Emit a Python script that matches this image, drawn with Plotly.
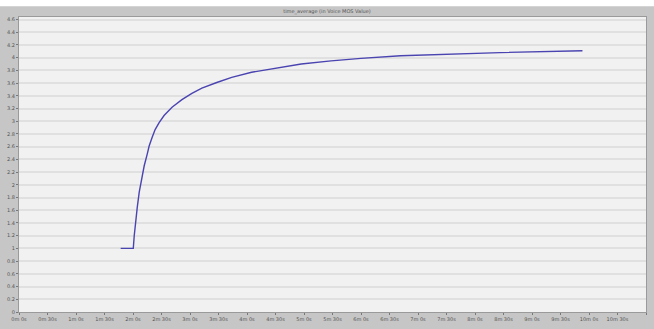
import plotly.graph_objects as go

# time_average of the voice MOS statistic (seconds vs. MOS)
time_s = [107, 120.3, 121.3, 122.4, 124.5, 126.6, 129.7, 131.8, 134.9, 137.0, 140.2,
          143.3, 147.5, 152.7, 161.1, 171.5, 182.0, 192.5, 208.2, 223.9, 244.8,
          271.0, 297.1, 328.5, 359.9, 401.7, 454.0, 506.3, 593.1]
mos = [1.0, 1.0, 1.2, 1.38, 1.65, 1.89, 2.15, 2.30, 2.48, 2.61, 2.75,
       2.87, 2.98, 3.09, 3.22, 3.34, 3.44, 3.52, 3.61, 3.69, 3.77,
       3.84, 3.90, 3.95, 3.99, 4.03, 4.06, 4.08, 4.11]

x_tick_secs = list(range(0, 661, 30))
x_tick_text = [f"{s // 60}m {s % 60}s" for s in x_tick_secs]
y_tick_vals = [round(i * 0.2, 1) for i in range(24)]
y_tick_text = [("%g" % v) for v in y_tick_vals]

fig = go.Figure()
fig.add_trace(go.Scatter(
    x=time_s, y=mos, mode="lines",
    line=dict(color="#4a44b0", width=1.4),
    showlegend=False, hoverinfo="skip",
))

fig.update_layout(
    width=654, height=329,
    margin=dict(l=16, r=7, t=17, b=8),
    paper_bgcolor="#c6c6c6",
    plot_bgcolor="#f1f1f1",
    title=dict(text="time_average (in Voice MOS Value)", x=0.5, xanchor="center",
               y=1 - 11.5 / 329, yanchor="middle",
               font=dict(family="DejaVu Sans", size=5, color="#555555")),
    font=dict(family="DejaVu Sans", size=5, color="#555555"),
)
fig.update_xaxes(
    range=[0, 660], tickvals=x_tick_secs, ticktext=x_tick_text,
    ticks="outside", ticklen=2, tickcolor="#777777",
    showgrid=False, zeroline=False,
    showline=True, linecolor="#9a9a9a", mirror=True,
    tickfont=dict(size=5, color="#555555"),
)
fig.update_yaxes(
    range=[0, 4.64], tickvals=y_tick_vals, ticktext=y_tick_text,
    ticks="outside", ticklen=2, tickcolor="#777777",
    showgrid=True, gridcolor="#e0e0e0", gridwidth=1.5, zeroline=False,
    showline=True, linecolor="#9a9a9a", mirror=True,
    tickfont=dict(size=5, color="#555555"),
)
# white strip above the grey title band
fig.add_shape(type="rect", xref="paper", yref="paper",
              x0=-0.1, x1=1.1, y0=1 + 11 / 304, y1=1 + 18 / 304,
              fillcolor="#ffffff", line=dict(width=0), layer="above")

fig.write_html("out.html")
